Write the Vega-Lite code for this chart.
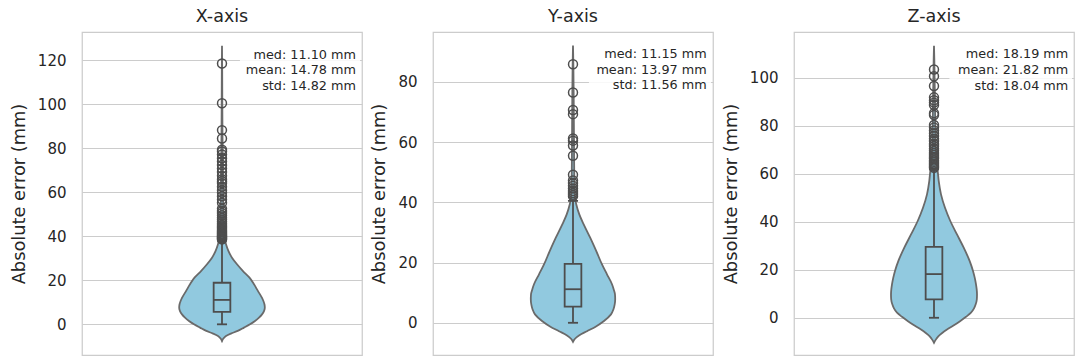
{
  "$schema": "https://vega.github.io/schema/vega-lite/v6.json",
  "padding": {"left": 9, "top": 6, "right": 0, "bottom": 0},
  "background": "white",
  "datasets": {
    "v1": [
      {"v": -7.6, "lo": 0, "hi": 0},
      {"v": -6.6, "lo": -0.0043, "hi": 0.0043},
      {"v": -5.3, "lo": -0.0143, "hi": 0.0143},
      {"v": -4.2, "lo": -0.0321, "hi": 0.0321},
      {"v": -3.0, "lo": -0.0561, "hi": 0.0561},
      {"v": -1.5, "lo": -0.0786, "hi": 0.0786},
      {"v": 0, "lo": -0.1, "hi": 0.1},
      {"v": 1.5, "lo": -0.1179, "hi": 0.1179},
      {"v": 3, "lo": -0.1321, "hi": 0.1321},
      {"v": 4.5, "lo": -0.1429, "hi": 0.1429},
      {"v": 6, "lo": -0.15, "hi": 0.15},
      {"v": 7.5, "lo": -0.1529, "hi": 0.1529},
      {"v": 9, "lo": -0.1518, "hi": 0.1518},
      {"v": 10.5, "lo": -0.1482, "hi": 0.1482},
      {"v": 12, "lo": -0.1429, "hi": 0.1429},
      {"v": 15.1, "lo": -0.1286, "hi": 0.1286},
      {"v": 18.2, "lo": -0.1143, "hi": 0.1143},
      {"v": 21.2, "lo": -0.0982, "hi": 0.0982},
      {"v": 24.2, "lo": -0.075, "hi": 0.075},
      {"v": 27.3, "lo": -0.0536, "hi": 0.0536},
      {"v": 30.3, "lo": -0.0357, "hi": 0.0357},
      {"v": 33.3, "lo": -0.0232, "hi": 0.0232},
      {"v": 36.4, "lo": -0.0143, "hi": 0.0143},
      {"v": 39.4, "lo": -0.0089, "hi": 0.0089},
      {"v": 45, "lo": -0.0057, "hi": 0.0057},
      {"v": 55, "lo": -0.0043, "hi": 0.0043},
      {"v": 65, "lo": -0.0036, "hi": 0.0036},
      {"v": 75, "lo": -0.0029, "hi": 0.0029},
      {"v": 85, "lo": -0.0018, "hi": 0.0018},
      {"v": 100, "lo": -0.0011, "hi": 0.0011},
      {"v": 115, "lo": -0.0007, "hi": 0.0007},
      {"v": 126.6, "lo": 0, "hi": 0}
    ],
    "v2": [
      {"v": -6.3, "lo": 0, "hi": 0},
      {"v": -5.3, "lo": -0.0071, "hi": 0.0071},
      {"v": -4.2, "lo": -0.0214, "hi": 0.0214},
      {"v": -2.8, "lo": -0.05, "hi": 0.05},
      {"v": -1.2, "lo": -0.0821, "hi": 0.0821},
      {"v": 0.6, "lo": -0.1107, "hi": 0.1107},
      {"v": 2.8, "lo": -0.1357, "hi": 0.1357},
      {"v": 4.5, "lo": -0.1446, "hi": 0.1446},
      {"v": 6.1, "lo": -0.1489, "hi": 0.1489},
      {"v": 7.8, "lo": -0.1507, "hi": 0.1507},
      {"v": 9.4, "lo": -0.15, "hi": 0.15},
      {"v": 11, "lo": -0.1457, "hi": 0.1457},
      {"v": 12.8, "lo": -0.1393, "hi": 0.1393},
      {"v": 16.1, "lo": -0.1214, "hi": 0.1214},
      {"v": 19.4, "lo": -0.1036, "hi": 0.1036},
      {"v": 23.8, "lo": -0.0832, "hi": 0.0832},
      {"v": 28.2, "lo": -0.0618, "hi": 0.0618},
      {"v": 32.7, "lo": -0.0382, "hi": 0.0382},
      {"v": 36, "lo": -0.0225, "hi": 0.0225},
      {"v": 39.3, "lo": -0.0118, "hi": 0.0118},
      {"v": 41.5, "lo": -0.0071, "hi": 0.0071},
      {"v": 45, "lo": -0.0054, "hi": 0.0054},
      {"v": 55, "lo": -0.0039, "hi": 0.0039},
      {"v": 65, "lo": -0.0032, "hi": 0.0032},
      {"v": 75, "lo": -0.0025, "hi": 0.0025},
      {"v": 85, "lo": -0.0014, "hi": 0.0014},
      {"v": 92.1, "lo": 0, "hi": 0}
    ],
    "v3": [
      {"v": -10.4, "lo": 0, "hi": 0},
      {"v": -9.3, "lo": -0.0054, "hi": 0.0054},
      {"v": -7.6, "lo": -0.0161, "hi": 0.0161},
      {"v": -6.2, "lo": -0.0304, "hi": 0.0304},
      {"v": -4.9, "lo": -0.0464, "hi": 0.0464},
      {"v": -3.2, "lo": -0.0696, "hi": 0.0696},
      {"v": -1.4, "lo": -0.0929, "hi": 0.0929},
      {"v": 0.4, "lo": -0.1143, "hi": 0.1143},
      {"v": 2.1, "lo": -0.1321, "hi": 0.1321},
      {"v": 3.9, "lo": -0.1429, "hi": 0.1429},
      {"v": 5.6, "lo": -0.1489, "hi": 0.1489},
      {"v": 7.6, "lo": -0.1529, "hi": 0.1529},
      {"v": 9.7, "lo": -0.1536, "hi": 0.1536},
      {"v": 11.8, "lo": -0.1525, "hi": 0.1525},
      {"v": 13.9, "lo": -0.15, "hi": 0.15},
      {"v": 16.7, "lo": -0.1454, "hi": 0.1454},
      {"v": 19.5, "lo": -0.1393, "hi": 0.1393},
      {"v": 23.6, "lo": -0.1275, "hi": 0.1275},
      {"v": 29.2, "lo": -0.1061, "hi": 0.1061},
      {"v": 34.7, "lo": -0.0821, "hi": 0.0821},
      {"v": 40.3, "lo": -0.0582, "hi": 0.0582},
      {"v": 45.8, "lo": -0.0393, "hi": 0.0393},
      {"v": 51.4, "lo": -0.025, "hi": 0.025},
      {"v": 57, "lo": -0.0168, "hi": 0.0168},
      {"v": 61.1, "lo": -0.0132, "hi": 0.0132},
      {"v": 63.9, "lo": -0.0096, "hi": 0.0096},
      {"v": 70, "lo": -0.0064, "hi": 0.0064},
      {"v": 80, "lo": -0.0046, "hi": 0.0046},
      {"v": 90, "lo": -0.0036, "hi": 0.0036},
      {"v": 100, "lo": -0.0021, "hi": 0.0021},
      {"v": 108, "lo": -0.0011, "hi": 0.0011},
      {"v": 113.3, "lo": 0, "hi": 0}
    ],
    "b1": [{"lo": 0, "q1": 5.7, "med": 11.1, "q3": 18.9, "hi": 38.3}],
    "b2": [{"lo": 0, "q1": 5.4, "med": 11.15, "q3": 19.6, "hi": 40.5}],
    "b3": [{"lo": 0, "q1": 7.7, "med": 18.19, "q3": 29.5, "hi": 62.0}],
    "s1": [{"a": "med: 11.10 mm", "b": "mean: 14.78 mm", "c": "std: 14.82 mm"}],
    "s2": [{"a": "med: 11.15 mm", "b": "mean: 13.97 mm", "c": "std: 11.56 mm"}],
    "s3": [{"a": "med: 18.19 mm", "b": "mean: 21.82 mm", "c": "std: 18.04 mm"}],
    "o1": [
      {"v": 38.6}, {"v": 38.9}, {"v": 39.2}, {"v": 39.5}, {"v": 39.8}, {"v": 40.1}, {"v": 40.5}, {"v": 40.9},
      {"v": 41.3}, {"v": 41.8}, {"v": 42.2}, {"v": 42.7}, {"v": 43.3}, {"v": 43.9}, {"v": 44.5}, {"v": 45.2},
      {"v": 46.0}, {"v": 46.8}, {"v": 47.6}, {"v": 48.5}, {"v": 49.6}, {"v": 50.6}, {"v": 51.5}, {"v": 52.6},
      {"v": 55.3}, {"v": 56.7}, {"v": 58.2}, {"v": 59.8}, {"v": 61.0}, {"v": 62.5}, {"v": 64.2}, {"v": 65.1},
      {"v": 66.0}, {"v": 67.5}, {"v": 69.3}, {"v": 70.8}, {"v": 72.4}, {"v": 74.0}, {"v": 75.5}, {"v": 77.2},
      {"v": 78.6}, {"v": 79.4}, {"v": 84.5}, {"v": 88.3}, {"v": 100.5}, {"v": 118.6}
    ],
    "o2": [
      {"v": 42.0}, {"v": 42.5}, {"v": 43.1}, {"v": 43.8}, {"v": 44.6}, {"v": 45.5}, {"v": 46.4}, {"v": 47.3},
      {"v": 49.2}, {"v": 55.5}, {"v": 58.9}, {"v": 60.5}, {"v": 61.2}, {"v": 69.3}, {"v": 70.7}, {"v": 76.5}, {"v": 85.9}
    ],
    "o3": [
      {"v": 62.5}, {"v": 63.0}, {"v": 63.6}, {"v": 64.2}, {"v": 64.9}, {"v": 65.5}, {"v": 66.3}, {"v": 67.0},
      {"v": 67.8}, {"v": 68.6}, {"v": 69.5}, {"v": 70.4}, {"v": 71.5}, {"v": 72.4}, {"v": 73.6}, {"v": 74.5},
      {"v": 75.7}, {"v": 76.8}, {"v": 78.0}, {"v": 79.2}, {"v": 80.3}, {"v": 84.4}, {"v": 85.2}, {"v": 88.6},
      {"v": 89.6}, {"v": 90.6}, {"v": 91.8}, {"v": 96.5}, {"v": 100.6}, {"v": 103.4}
    ]
  },
  "hconcat": [
    {
      "title": "X-axis",
      "width": 280,
      "height": 323,
      "layer": [
        {
          "data": {"name": "v1"},
          "mark": {"type": "area", "orient": "horizontal", "interpolate": "monotone", "fill": "#91c9df", "stroke": "#6a6a6a", "strokeWidth": 1.8},
          "encoding": {
            "x": {"field": "lo", "type": "quantitative", "scale": {"domain": [-0.5, 0.5]}, "axis": null},
            "x2": {"field": "hi"},
            "y": {"field": "v", "type": "quantitative", "scale": {"domain": [-13.95, 132.9], "nice": false, "zero": false}, "axis": {"title": "Absolute error (mm)", "values": [0, 20, 40, 60, 80, 100, 120]}}
          }
        },
        {"data": {"name": "b1"}, "mark": {"type": "rule", "color": "#4d4d4d", "strokeWidth": 1.8}, "encoding": {"x": {"datum": 0}, "y": {"field": "lo", "type": "quantitative"}, "y2": {"field": "hi"}}},
        {"data": {"name": "b1"}, "mark": {"type": "rect", "fill": "#91c9df", "stroke": "#4d4d4d", "strokeWidth": 1.8}, "encoding": {"x": {"datum": -0.0298}, "x2": {"datum": 0.0298}, "y": {"field": "q1", "type": "quantitative"}, "y2": {"field": "q3"}}},
        {"data": {"name": "b1"}, "mark": {"type": "rule", "color": "#4d4d4d", "strokeWidth": 1.8}, "encoding": {"x": {"datum": -0.0298}, "x2": {"datum": 0.0298}, "y": {"field": "med", "type": "quantitative"}}},
        {"data": {"name": "b1"}, "mark": {"type": "rule", "color": "#4d4d4d", "strokeWidth": 1.8}, "encoding": {"x": {"datum": -0.018}, "x2": {"datum": 0.018}, "y": {"field": "lo", "type": "quantitative"}}},
        {"data": {"name": "b1"}, "mark": {"type": "rule", "color": "#4d4d4d", "strokeWidth": 1.8}, "encoding": {"x": {"datum": -0.018}, "x2": {"datum": 0.018}, "y": {"field": "hi", "type": "quantitative"}}},
        {"data": {"name": "o1"}, "mark": {"type": "point", "shape": "circle", "filled": false, "stroke": "#4d4d4d", "strokeWidth": 1.5, "size": 80, "opacity": 1}, "encoding": {"x": {"datum": 0}, "y": {"field": "v", "type": "quantitative"}}},
        {"data": {"name": "s1"}, "mark": {"type": "rect", "fill": "white", "opacity": 0.85}, "encoding": {"x": {"datum": 0.064}, "x2": {"datum": 0.493}, "y": {"datum": 104.2}, "y2": {"datum": 128.3}}},
        {"data": {"name": "s1"}, "mark": {"type": "text", "align": "right", "baseline": "alphabetic", "font": "DejaVu Sans", "fontSize": 12.8, "color": "#262626", "dy": 0}, "encoding": {"text": {"field": "a"}, "x": {"datum": 0.4786}, "y": {"datum": 120.8}}},
        {"data": {"name": "s1"}, "mark": {"type": "text", "align": "right", "baseline": "alphabetic", "font": "DejaVu Sans", "fontSize": 12.8, "color": "#262626", "dy": 15.8}, "encoding": {"text": {"field": "b"}, "x": {"datum": 0.4786}, "y": {"datum": 120.8}}},
        {"data": {"name": "s1"}, "mark": {"type": "text", "align": "right", "baseline": "alphabetic", "font": "DejaVu Sans", "fontSize": 12.8, "color": "#262626", "dy": 31.6}, "encoding": {"text": {"field": "c"}, "x": {"datum": 0.4786}, "y": {"datum": 120.8}}}
      ]
    },
    {
      "title": "Y-axis",
      "width": 280,
      "height": 323,
      "layer": [
        {
          "data": {"name": "v2"},
          "mark": {"type": "area", "orient": "horizontal", "interpolate": "monotone", "fill": "#91c9df", "stroke": "#6a6a6a", "strokeWidth": 1.8},
          "encoding": {
            "x": {"field": "lo", "type": "quantitative", "scale": {"domain": [-0.5, 0.5]}, "axis": null},
            "x2": {"field": "hi"},
            "y": {"field": "v", "type": "quantitative", "scale": {"domain": [-10.7, 96.6], "nice": false, "zero": false}, "axis": {"title": "Absolute error (mm)", "values": [0, 20, 40, 60, 80]}}
          }
        },
        {"data": {"name": "b2"}, "mark": {"type": "rule", "color": "#4d4d4d", "strokeWidth": 1.8}, "encoding": {"x": {"datum": 0}, "y": {"field": "lo", "type": "quantitative"}, "y2": {"field": "hi"}}},
        {"data": {"name": "b2"}, "mark": {"type": "rect", "fill": "#91c9df", "stroke": "#4d4d4d", "strokeWidth": 1.8}, "encoding": {"x": {"datum": -0.0298}, "x2": {"datum": 0.0298}, "y": {"field": "q1", "type": "quantitative"}, "y2": {"field": "q3"}}},
        {"data": {"name": "b2"}, "mark": {"type": "rule", "color": "#4d4d4d", "strokeWidth": 1.8}, "encoding": {"x": {"datum": -0.0298}, "x2": {"datum": 0.0298}, "y": {"field": "med", "type": "quantitative"}}},
        {"data": {"name": "b2"}, "mark": {"type": "rule", "color": "#4d4d4d", "strokeWidth": 1.8}, "encoding": {"x": {"datum": -0.018}, "x2": {"datum": 0.018}, "y": {"field": "lo", "type": "quantitative"}}},
        {"data": {"name": "b2"}, "mark": {"type": "rule", "color": "#4d4d4d", "strokeWidth": 1.8}, "encoding": {"x": {"datum": -0.018}, "x2": {"datum": 0.018}, "y": {"field": "hi", "type": "quantitative"}}},
        {"data": {"name": "o2"}, "mark": {"type": "point", "shape": "circle", "filled": false, "stroke": "#4d4d4d", "strokeWidth": 1.5, "size": 80, "opacity": 1}, "encoding": {"x": {"datum": 0}, "y": {"field": "v", "type": "quantitative"}}},
        {"data": {"name": "s2"}, "mark": {"type": "rect", "fill": "white", "opacity": 0.85}, "encoding": {"x": {"datum": 0.057}, "x2": {"datum": 0.493}, "y": {"datum": 75.7}, "y2": {"datum": 93.3}}},
        {"data": {"name": "s2"}, "mark": {"type": "text", "align": "right", "baseline": "alphabetic", "font": "DejaVu Sans", "fontSize": 12.8, "color": "#262626", "dy": 0}, "encoding": {"text": {"field": "a"}, "x": {"datum": 0.4775}, "y": {"datum": 88.0}}},
        {"data": {"name": "s2"}, "mark": {"type": "text", "align": "right", "baseline": "alphabetic", "font": "DejaVu Sans", "fontSize": 12.8, "color": "#262626", "dy": 15.8}, "encoding": {"text": {"field": "b"}, "x": {"datum": 0.4775}, "y": {"datum": 88.0}}},
        {"data": {"name": "s2"}, "mark": {"type": "text", "align": "right", "baseline": "alphabetic", "font": "DejaVu Sans", "fontSize": 12.8, "color": "#262626", "dy": 31.6}, "encoding": {"text": {"field": "c"}, "x": {"datum": 0.4775}, "y": {"datum": 88.0}}}
      ]
    },
    {
      "title": "Z-axis",
      "width": 280,
      "height": 323,
      "layer": [
        {
          "data": {"name": "v3"},
          "mark": {"type": "area", "orient": "horizontal", "interpolate": "monotone", "fill": "#91c9df", "stroke": "#6a6a6a", "strokeWidth": 1.8},
          "encoding": {
            "x": {"field": "lo", "type": "quantitative", "scale": {"domain": [-0.5, 0.5]}, "axis": null},
            "x2": {"field": "hi"},
            "y": {"field": "v", "type": "quantitative", "scale": {"domain": [-15.5, 119.0], "nice": false, "zero": false}, "axis": {"title": "Absolute error (mm)", "values": [0, 20, 40, 60, 80, 100]}}
          }
        },
        {"data": {"name": "b3"}, "mark": {"type": "rule", "color": "#4d4d4d", "strokeWidth": 1.8}, "encoding": {"x": {"datum": 0}, "y": {"field": "lo", "type": "quantitative"}, "y2": {"field": "hi"}}},
        {"data": {"name": "b3"}, "mark": {"type": "rect", "fill": "#91c9df", "stroke": "#4d4d4d", "strokeWidth": 1.8}, "encoding": {"x": {"datum": -0.0298}, "x2": {"datum": 0.0298}, "y": {"field": "q1", "type": "quantitative"}, "y2": {"field": "q3"}}},
        {"data": {"name": "b3"}, "mark": {"type": "rule", "color": "#4d4d4d", "strokeWidth": 1.8}, "encoding": {"x": {"datum": -0.0298}, "x2": {"datum": 0.0298}, "y": {"field": "med", "type": "quantitative"}}},
        {"data": {"name": "b3"}, "mark": {"type": "rule", "color": "#4d4d4d", "strokeWidth": 1.8}, "encoding": {"x": {"datum": -0.018}, "x2": {"datum": 0.018}, "y": {"field": "lo", "type": "quantitative"}}},
        {"data": {"name": "b3"}, "mark": {"type": "rule", "color": "#4d4d4d", "strokeWidth": 1.8}, "encoding": {"x": {"datum": -0.018}, "x2": {"datum": 0.018}, "y": {"field": "hi", "type": "quantitative"}}},
        {"data": {"name": "o3"}, "mark": {"type": "point", "shape": "circle", "filled": false, "stroke": "#4d4d4d", "strokeWidth": 1.5, "size": 80, "opacity": 1}, "encoding": {"x": {"datum": 0}, "y": {"field": "v", "type": "quantitative"}}},
        {"data": {"name": "s3"}, "mark": {"type": "rect", "fill": "white", "opacity": 0.85}, "encoding": {"x": {"datum": 0.055}, "x2": {"datum": 0.493}, "y": {"datum": 92.8}, "y2": {"datum": 114.9}}},
        {"data": {"name": "s3"}, "mark": {"type": "text", "align": "right", "baseline": "alphabetic", "font": "DejaVu Sans", "fontSize": 12.8, "color": "#262626", "dy": 0}, "encoding": {"text": {"field": "a"}, "x": {"datum": 0.4796}, "y": {"datum": 108.2}}},
        {"data": {"name": "s3"}, "mark": {"type": "text", "align": "right", "baseline": "alphabetic", "font": "DejaVu Sans", "fontSize": 12.8, "color": "#262626", "dy": 15.8}, "encoding": {"text": {"field": "b"}, "x": {"datum": 0.4796}, "y": {"datum": 108.2}}},
        {"data": {"name": "s3"}, "mark": {"type": "text", "align": "right", "baseline": "alphabetic", "font": "DejaVu Sans", "fontSize": 12.8, "color": "#262626", "dy": 31.6}, "encoding": {"text": {"field": "c"}, "x": {"datum": 0.4796}, "y": {"datum": 108.2}}}
      ]
    }
  ],
  "config": {
    "view": {"stroke": "#cccccc", "strokeWidth": 1.25},
    "axis": {
      "grid": true, "gridColor": "#cccccc", "gridWidth": 1.2, "domain": false, "ticks": false, "tickSize": 0,
      "labelPadding": 16, "labelFont": "DejaVu Sans", "labelFontSize": 15, "labelColor": "#262626",
      "titleFont": "DejaVu Sans", "titleFontSize": 17.8, "titleFontWeight": "normal", "titleColor": "#262626", "titlePadding": 9
    },
    "title": {"font": "DejaVu Sans", "fontSize": 17.5, "fontWeight": "normal", "color": "#262626", "offset": 7},
    "concat": {"spacing": 7}
  }
}
